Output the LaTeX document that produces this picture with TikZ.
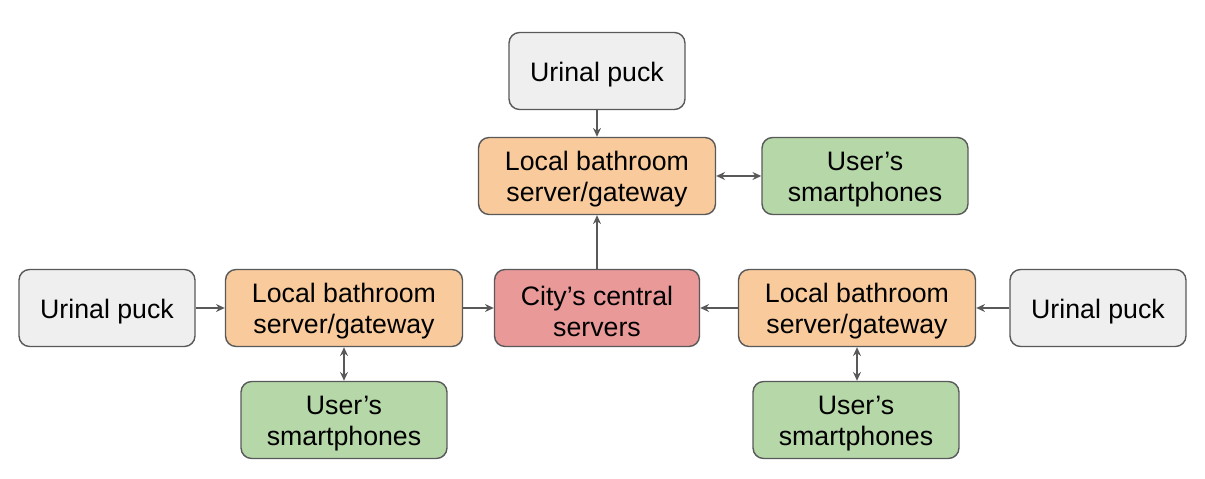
\documentclass[tikz,border=0pt]{standalone}
\usepackage{fontspec}
\setmainfont{Liberation Sans}
\usetikzlibrary{arrows.meta}
\definecolor{puckgray}{HTML}{EFEFEF}
\definecolor{gateorange}{HTML}{F9CB9C}
\definecolor{phonegreen}{HTML}{B6D7A8}
\definecolor{cityred}{HTML}{EA9999}
\definecolor{edgegray}{HTML}{595959}
\tikzset{
  box/.style={draw=edgegray, line width=0.8pt, rounded corners=6pt, align=center,
    minimum height=1.54cm, text height=32.4pt, font=\fontsize{15.2}{17.8}\selectfont},
  puck/.style={box, fill=puckgray, minimum width=3.52cm, text height=14.6pt},
  gate/.style={box, fill=gateorange, minimum width=4.74cm},
  phone/.style={box, fill=phonegreen, minimum width=4.12cm},
  city/.style={box, fill=cityred, minimum width=4.1cm},
  link/.style={draw=edgegray, line width=0.8pt}
}
\begin{document}
\begin{tikzpicture}[x=0.02cm, y=-0.02cm, >={Stealth[length=5pt,width=4.5pt]}]
        \useasboundingbox (0,0) rectangle (1205,479);
        % top branch
        \node[puck] (puckT) at (597,71) {Urinal puck};
        \node[gate] (gateT) at (597,176) {Local bathroom\\server/gateway};
        \node[phone] (phoneT) at (865,176) {User’s\\smartphones};
        % middle row
        \node[puck] (puckL) at (107,308) {Urinal puck};
        \node[gate] (gateL) at (344,308) {Local bathroom\\server/gateway};
        \node[city] (city) at (597,308) {City’s central\\servers};
        \node[gate] (gateR) at (857,308) {Local bathroom\\server/gateway};
        \node[puck] (puckR) at (1098,308) {Urinal puck};
        % bottom phones
        \node[phone] (phoneL) at (344,420) {User’s\\smartphones};
        \node[phone] (phoneR) at (856,420) {User’s\\smartphones};
        % links
        \draw[link,->] (puckT) -- (gateT);
        \draw[link,->] (city) -- (gateT);
        \draw[link,<->] (gateT) -- (phoneT);
        \draw[link,->] (puckL) -- (gateL);
        \draw[link,->] (gateL) -- (city);
        \draw[link,->] (gateR) -- (city);
        \draw[link,->] (puckR) -- (gateR);
        \draw[link,<->] (gateL) -- (phoneL);
        \draw[link,<->] (gateR.south) -- (gateR.south |- phoneR.north);
      \end{tikzpicture}
\end{document}
